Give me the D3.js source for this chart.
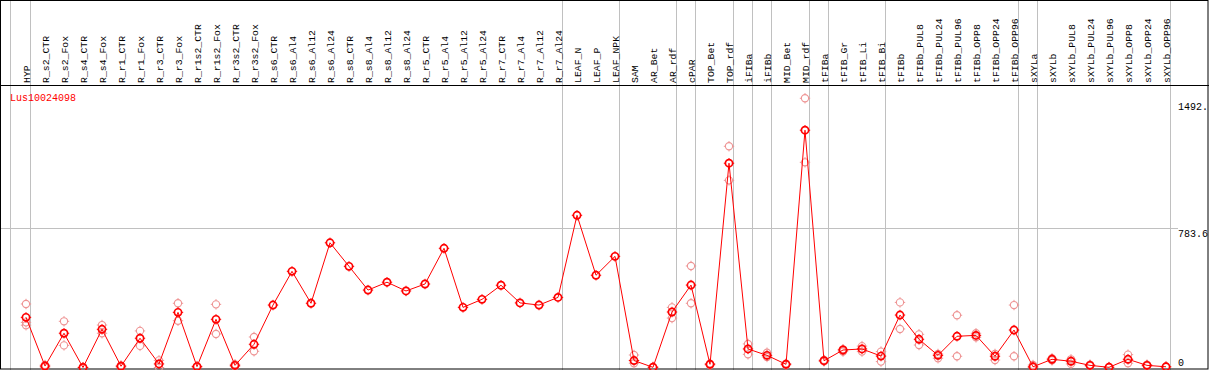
<!DOCTYPE html>
<html>
<head>
<meta charset="utf-8">
<script src="https://cdn.jsdelivr.net/npm/d3@7"></script>
<style>
  body { margin: 0; background: #fff; }
  svg { display: block; font-family: "Liberation Mono", "DejaVu Sans Mono", monospace; }
</style>
</head>
<body>
<div id="chart"></div>
<script>
// sample names, one column each
const labels = ["HYP", "R_s2_CTR", "R_s2_Fox", "R_s4_CTR", "R_s4_Fox", "R_r1_CTR", "R_r1_Fox",
    "R_r3_CTR", "R_r3_Fox", "R_r1s2_CTR", "R_r1s2_Fox", "R_r3s2_CTR", "R_r3s2_Fox",
    "R_s6_CTR", "R_s6_Al4", "R_s6_Al12", "R_s6_Al24", "R_s8_CTR", "R_s8_Al4", "R_s8_Al12",
    "R_s8_Al24", "R_r5_CTR", "R_r5_Al4", "R_r5_Al12", "R_r5_Al24", "R_r7_CTR", "R_r7_Al4",
    "R_r7_Al12", "R_r7_Al24", "LEAF_N", "LEAF_P", "LEAF_NPK", "SAM", "AR_Bet", "AR_rdf",
    "cPAR", "TOP_Bet", "TOP_rdf", "iFIBa", "iFIBb", "MID_Bet", "MID_rdf", "tFIBa", "tFIB_Gr",
    "tFIB_Li", "tFIB_Bi", "tFIBb", "tFIBb_PUL8", "tFIBb_PUL24", "tFIBb_PUL96", "tFIBb_OPP8",
    "tFIBb_OPP24", "tFIBb_OPP96", "sXYLa", "sXYLb", "sXYLb_PUL8", "sXYLb_PUL24",
    "sXYLb_PUL96", "sXYLb_OPP8", "sXYLb_OPP24", "sXYLb_OPP96"];

// columns where a new group starts (gray separators)
const groupStarts = ["HYP", "R_s2_CTR", "LEAF_N", "SAM", "cPAR", "TOP_Bet", "iFIBa", "iFIBb",
    "MID_Bet", "tFIBa", "tFIB_Gr", "tFIBb", "sXYLa", "sXYLb"];

const geneName = "Lus10024098";

// mean expression per sample
const meanVals = [281, 8, 192, 0, 214, 7, 164, 20, 309, 5, 270, 12, 130,
    350, 539, 360, 699, 567, 434, 478, 429, 468, 668, 337, 382, 461, 362, 350, 393,
    853, 517, 623, 39, 1, 311, 462, 18, 1145, 104, 68, 18, 1330, 38, 98, 104, 64,
    294, 158, 68, 175, 180, 63, 210, 4, 46, 35, 12, 1, 46, 12, 4];

// replicate values (null = no replicate shown)
const repHigh = [356, 14, 259, 2, 238, 12, 205, 40, 360, 8, 354, 18, 171,
    null, null, null, null, null, null, null, null, null, null, null, null, null, null, null, null,
    null, null, null, 70, 4, 337, 569, 22, 1240, 132, 83, 22, 1509, 42, 102, 120, 89,
    365, 186, 76, 293, 192, 76, 350, 14, 52, 46, 16, 3, 72, 16, 6];
const repLow = [253, 2, 124, 0, 192, 2, 121, 0, 262, 2, 188, 6, 91,
    null, null, null, null, null, null, null, null, null, null, null, null, null, null, null, null,
    null, null, null, 24, 0, 277, 360, 14, 1049, 74, 59, 14, 1150, 34, 89, 89, 33,
    216, 126, 52, 63, 169, 42, 63, 0, 40, 20, 8, 0, 24, 8, 2];
const repExtra = [237];

const yTicks = [0, 783.6, 1492];
const yTickLabels = ["0", "783.6", "1492."];

const W = 1209, H = 370;
const headerBottom = 85;
const plotRight = 1170;

const svg = d3.select("#chart").append("svg")
    .attr("width", W)
    .attr("height", H);

const xBand = d3.scaleBand()
    .domain(labels)
    .range([11, plotRight])
    .paddingInner(0)
    .paddingOuter(0);
const xPt = d => xBand(d) + 15;

const y = d3.scaleLinear()
    .domain([0, 1492])
    .range([367.5, 101.3]);

// vertical group separators, full height
const seps = groupStarts.map(g => xBand(g)).concat([plotRight]);
svg.append("g").selectAll("line")
    .data(seps)
    .join("line")
    .attr("x1", (d, i) => i === 0 ? Math.round(d) - 0.5 : Math.round(d) + 0.5)
    .attr("x2", (d, i) => i === 0 ? Math.round(d) - 0.5 : Math.round(d) + 0.5)
    .attr("y1", 0)
    .attr("y2", H)
    .attr("stroke", "#c0c0c0")
    .attr("stroke-width", 1);

// horizontal grid line at middle tick
svg.append("line")
    .attr("x1", 1)
    .attr("x2", 1178)
    .attr("y1", Math.round(y(yTicks[1])) + 0.5)
    .attr("y2", Math.round(y(yTicks[1])) + 0.5)
    .attr("stroke", "#c0c0c0");

// header labels
svg.append("g").selectAll("text")
    .data(labels)
    .join("text")
    .attr("transform", d => `translate(${xBand(d) + 19}, 83) rotate(-90)`)
    .attr("font-size", 9.8)
    .attr("fill", "#000")
    .text(d => d);

// frame
svg.append("rect")
    .attr("x", 0.5).attr("y", 0.5)
    .attr("width", W - 1.5).attr("height", H - 1.5)
    .attr("fill", "none")
    .attr("stroke", "#000");
svg.append("line")
    .attr("x1", 0).attr("x2", W)
    .attr("y1", headerBottom + 0.5).attr("y2", headerBottom + 0.5)
    .attr("stroke", "#000");

// right axis labels
svg.append("g").selectAll("text")
    .data(yTicks)
    .join("text")
    .attr("x", 1178)
    .attr("y", d => Math.min(y(d) + 9, 365.5))
    .attr("font-size", 10)
    .attr("fill", "#000")
    .text((d, i) => yTickLabels[i]);

// title
svg.append("text")
    .attr("x", 10)
    .attr("y", 101)
    .attr("font-size", 10)
    .attr("fill", "#ff0000")
    .text(geneName);

const stubs = r => `M0,${-r - 1.6}V${-r}M0,${r}V${r + 1.6}M${-r - 1.6},0H${-r}M${r},0H${r + 1.6}`;

const drawMarkers = (vals, color, width, cls) => {
    const pts = vals.map((v, i) => ({ v, i })).filter(d => d.v !== null && d.v !== undefined);
    const g = svg.append("g").attr("class", cls)
        .selectAll("g")
        .data(pts)
        .join("g")
        .attr("transform", d => `translate(${xPt(labels[d.i])}, ${y(d.v)})`);
    g.append("circle")
        .attr("r", 3.6)
        .attr("fill", "none")
        .attr("stroke", color)
        .attr("stroke-width", width);
    g.append("path")
        .attr("d", stubs(3.6))
        .attr("stroke", color)
        .attr("stroke-width", 1);
};

drawMarkers(repHigh, "#ee9494", 1.1, "rep");
drawMarkers(repLow, "#ee9494", 1.1, "rep");
drawMarkers(repExtra, "#ee9494", 1.1, "rep");

const line = d3.line()
    .x((d, i) => xPt(labels[i]))
    .y(d => y(d));
svg.append("path")
    .datum(meanVals)
    .attr("d", line)
    .attr("fill", "none")
    .attr("stroke", "#ff0000")
    .attr("stroke-width", 1);

drawMarkers(meanVals, "#ff0000", 1.7, "mean");
</script>
</body>
</html>
